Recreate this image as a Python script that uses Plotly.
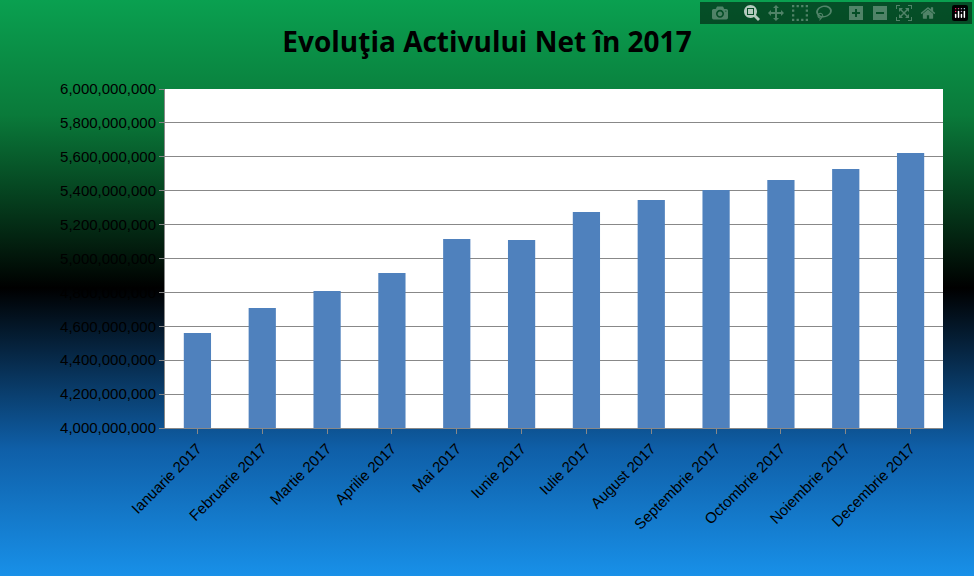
import plotly.graph_objects as go
import base64

months = ["Ianuarie 2017","Februarie 2017","Martie 2017","Aprilie 2017","Mai 2017","Iunie 2017",
          "Iulie 2017","August 2017","Septembrie 2017","Octombrie 2017","Noiembrie 2017","Decembrie 2017"]
values = [4560000000,4708000000,4808000000,4914000000,5115000000,5109000000,
          5274000000,5345000000,5404000000,5463000000,5528000000,5622000000]
tickvals = [4000000000 + i*200000000 for i in range(11)]

svg = '''<svg xmlns="http://www.w3.org/2000/svg" width="974" height="576" preserveAspectRatio="none">
<defs><linearGradient id="g" x1="0" y1="0" x2="0" y2="1">
<stop offset="0" stop-color="#0aa050"/><stop offset="0.2" stop-color="#0a7a3a"/>
<stop offset="0.5" stop-color="#000000"/><stop offset="0.78" stop-color="#0f5fa8"/>
<stop offset="1" stop-color="#1890e8"/></linearGradient></defs>
<rect width="974" height="576" fill="url(#g)"/></svg>'''
src = "data:image/svg+xml;base64," + base64.b64encode(svg.encode()).decode()

fig = go.Figure(go.Bar(x=months, y=values, marker=dict(color="#4f81bd", line=dict(width=0)), width=0.42))
fig.update_layout(
    width=974, height=576,
    margin=dict(l=165, r=31, t=89, b=148),
    paper_bgcolor="rgba(0,0,0,0)", plot_bgcolor="white",
    title=dict(text="<b>Evoluţia Activului Net în 2017</b>", x=0.5, xanchor="center", y=0.927,
               yanchor="middle", font=dict(family="Open Sans", size=28, color="black")),
    font=dict(family="Liberation Sans", size=15, color="black"),
    images=[dict(source=src, xref="paper", yref="paper", x=-165/778, y=1+89/339,
                 sizex=974/778, sizey=576/339, sizing="stretch", layer="below",
                 xanchor="left", yanchor="top")],
    shapes=[dict(type="rect", xref="paper", yref="paper", x0=0, x1=1, y0=0, y1=1,
                 fillcolor="white", line=dict(width=0), layer="below")],
    showlegend=False,
)
fig.update_yaxes(range=[4e9, 6e9], tickvals=tickvals, tickformat=",.0f", gridcolor="#888888",
                 showline=True, linecolor="#888888", ticks="outside", tickcolor="#888888", ticklen=5)
fig.update_xaxes(tickangle=-45, showline=True, linecolor="#888888", ticks="outside",
                 tickcolor="#888888", ticklen=5)
fig.write_html("out.html")
with open("out.html", encoding="utf-8") as f:
    html = f.read()
html = html.replace("<head>", "<head><style>body{margin:0;}</style>", 1)
with open("out.html", "w", encoding="utf-8") as f:
    f.write(html)
